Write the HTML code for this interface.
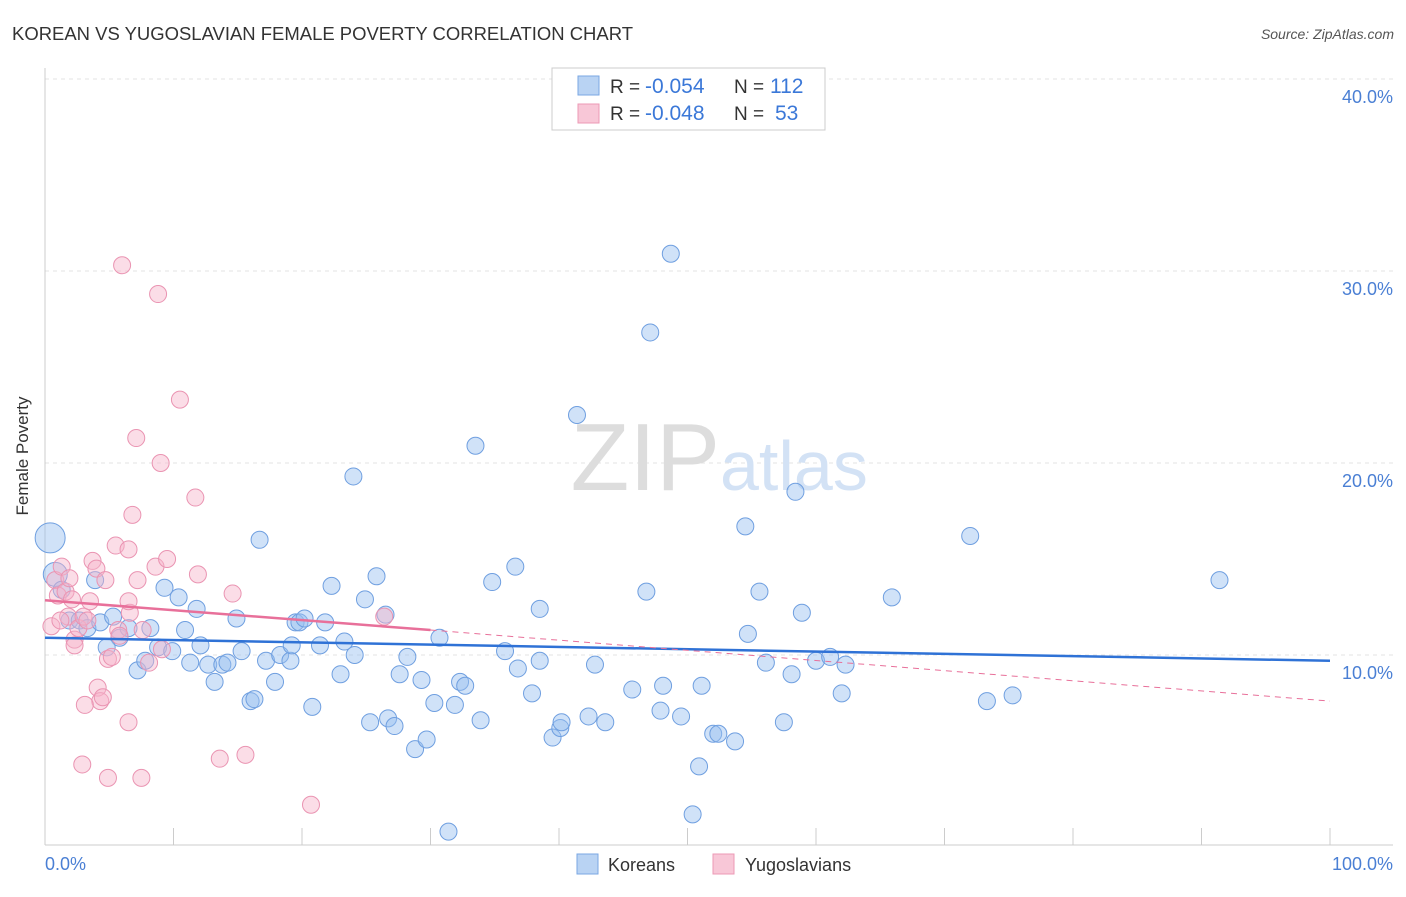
<!DOCTYPE html>
<html><head><meta charset="utf-8"><style>
body{margin:0;background:#fff;font-family:"Liberation Sans",sans-serif;}
svg text{font-family:"Liberation Sans",sans-serif;}
</style></head><body>
<svg width="1406" height="892" viewBox="0 0 1406 892">
<text x="12" y="40" font-size="18" fill="#333" textLength="621" lengthAdjust="spacingAndGlyphs">KOREAN VS YUGOSLAVIAN FEMALE POVERTY CORRELATION CHART</text>
<text x="1394" y="39" font-size="14" fill="#555" text-anchor="end" font-style="italic">Source: ZipAtlas.com</text>
<g id="grid"></g>
<text x="720" y="490" font-size="96" fill="#ddd" text-anchor="end" font-family="Liberation Serif">ZIP</text>
<text x="720" y="490" font-size="70" fill="#d3e2f5">atlas</text>
<line x1="45" y1="68" x2="45" y2="845" stroke="#ccc"/>
<line x1="45" y1="845" x2="1393" y2="845" stroke="#ccc"/>
<g id="xticks"></g>
<text x="28" y="456" font-size="17" fill="#333" transform="rotate(-90 28 456)" text-anchor="middle">Female Poverty</text>
<text x="45" y="870" font-size="18" fill="#4a7fd4">0.0%</text>
<text x="1393" y="870" font-size="18" fill="#4a7fd4" text-anchor="end">100.0%</text>
<g id="pts"></g>
<g id="trend"></g>
<g>
<rect x="552" y="68" width="273" height="62" fill="#fff" stroke="#ccc"/>
<rect x="578" y="76" width="21" height="19" fill="#b9d3f3" stroke="#7aa7e3"/>
<rect x="578" y="104" width="21" height="19" fill="#f8c7d7" stroke="#ec9ab5"/>
<text x="610" y="93" font-size="19" fill="#333">R =</text>
<text x="645" y="93" font-size="21" fill="#3b78d8">-0.054</text>
<text x="734" y="93" font-size="19" fill="#333">N =</text>
<text x="770" y="93" font-size="21" fill="#3b78d8">112</text>
<text x="610" y="120" font-size="19" fill="#333">R =</text>
<text x="645" y="120" font-size="21" fill="#3b78d8">-0.048</text>
<text x="734" y="120" font-size="19" fill="#333">N =</text>
<text x="775" y="120" font-size="21" fill="#3b78d8">53</text>
</g>
<g>
<rect x="577" y="854" width="21" height="20" fill="#b9d3f3" stroke="#7aa7e3"/>
<text x="608" y="871" font-size="18" fill="#333">Koreans</text>
<rect x="713" y="854" width="21" height="20" fill="#f8c7d7" stroke="#ec9ab5"/>
<text x="745" y="871" font-size="18" fill="#333">Yugoslavians</text>
</g>
</svg>
<script>
const yTicks=[10,20,30,40];
const xTickCount=10;
const koreansX=[0.4,0.8,1.3,3.9,1.9,2.7,3.3,4.3,5.3,5.8,6.5,4.8,7.2,7.8,8.2,8.8,9.3,9.9,10.4,10.9,11.3,11.8,12.1,12.7,13.2,13.8,14.2,14.9,15.3,16.0,16.3,16.7,17.2,17.9,18.3,19.1,19.2,19.5,19.8,20.2,20.8,21.4,21.8,22.3,23.0,23.3,24.0,24.1,24.9,25.3,25.8,26.5,26.7,27.2,27.6,28.2,28.8,29.3,29.7,30.3,30.7,31.4,31.9,32.3,32.7,33.5,33.9,34.8,35.8,36.6,36.8,37.9,38.5,38.5,39.5,40.1,40.2,41.4,42.3,42.8,43.6,45.7,46.8,47.1,47.9,48.1,48.7,49.5,50.4,50.9,51.1,52.0,52.4,53.7,54.5,54.7,55.6,56.1,57.5,58.1,58.4,58.9,60.0,61.1,62.0,62.3,65.9,72.0,73.3,75.3,91.4];
const koreansY=[16.1,14.2,13.4,13.9,11.8,11.8,11.4,11.7,12.0,10.9,11.4,10.4,9.2,9.7,11.4,10.4,13.5,10.2,13.0,11.3,9.6,12.4,10.5,9.5,8.6,9.5,9.6,11.9,10.2,7.6,7.7,16.0,9.7,8.6,10.0,9.7,10.5,11.7,11.7,11.9,7.3,10.5,11.7,13.6,9.0,10.7,19.3,10.0,12.9,6.5,14.1,12.1,6.7,6.3,9.0,9.9,5.1,8.7,5.6,7.5,10.9,0.8,7.4,8.6,8.4,20.9,6.6,13.8,10.2,14.6,9.3,8.0,12.4,9.7,5.7,6.2,6.5,22.5,6.8,9.5,6.5,8.2,13.3,26.8,7.1,8.4,30.9,6.8,1.7,4.2,8.4,5.9,5.9,5.5,16.7,11.1,13.3,9.6,6.5,9.0,18.5,12.2,9.7,9.9,8.0,9.5,13.0,16.2,7.6,7.9,13.9];
const yugoX=[0.8,1,1.3,1.6,1.8,2.1,2.3,2.6,3,3.3,3.7,4,4.1,4.3,4.5,4.7,4.9,5.2,5.5,5.7,5.8,6,6.5,6.5,6.6,6.8,7.1,7.2,7.5,7.6,8.1,8.6,8.8,9,9.1,9.5,10.5,11.7,11.9,13.6,14.6,15.6,20.7,26.4,2.9,4.9,2.3,0.5,1.2,3.5,1.9,3.1,6.5];
const yugoY=[13.9,13.1,14.6,13.3,12,12.9,10.8,11.4,12,11.8,14.9,14.5,8.3,7.6,7.8,13.9,9.8,9.9,15.7,11.3,11,30.3,15.5,6.5,12.2,17.3,21.3,13.9,3.6,11.3,9.6,14.6,28.8,20,10.3,15,23.3,18.2,14.2,4.6,13.2,4.8,2.2,12,4.3,3.6,10.5,11.5,11.8,12.8,14,7.4,12.8];
const X=v=>45+v*12.85, Y=v=>847-v*19.2;
const NS='http://www.w3.org/2000/svg';
const grid=document.getElementById('grid');
yTicks.forEach(t=>{
 const l=document.createElementNS(NS,'line');
 l.setAttribute('x1',45);l.setAttribute('x2',1393);l.setAttribute('y1',Y(t));l.setAttribute('y2',Y(t));
 l.setAttribute('stroke','#e3e3e3');l.setAttribute('stroke-dasharray','4,4');
 
 
 grid.appendChild(l);
 const tx=document.createElementNS(NS,'text');
 tx.setAttribute('x',1393);tx.setAttribute('y',Y(t)+24);tx.setAttribute('text-anchor','end');
 tx.setAttribute('font-size','18');tx.setAttribute('fill','#4a7fd4');tx.textContent=t.toFixed(1)+'%';
 
 
 grid.appendChild(tx);
});
const xt=document.getElementById('xticks');
for(let i=0;i<=xTickCount;i++){
 const l=document.createElementNS(NS,'line');
 const x=X(i*100/xTickCount);
 l.setAttribute('x1',x);l.setAttribute('x2',x);l.setAttribute('y1',828);l.setAttribute('y2',845);l.setAttribute('stroke','#ccc');
 
 
 xt.appendChild(l);
}
const pts=document.getElementById('pts');
function dot(x,y,r,fill,stroke,name){
 const c=document.createElementNS(NS,'circle');
 c.setAttribute('cx',X(x));c.setAttribute('cy',Y(y));c.setAttribute('r',r);
 c.setAttribute('fill',fill);c.setAttribute('stroke',stroke);c.setAttribute('stroke-width','1');
 
 
 pts.appendChild(c);
}
koreansX.forEach((x,i)=>dot(x,koreansY[i],i==0?15:(i==1?12:8.5),'rgba(150,190,240,0.45)','#6f9fe0','korean-point'));
yugoX.forEach((x,i)=>dot(x,yugoY[i],8.5,'rgba(246,180,202,0.45)','#ea94b2','yugoslavian-point'));
const tr=document.getElementById('trend');
function line(x1,y1,x2,y2,col,w,dash,name){
 const l=document.createElementNS(NS,'line');
 l.setAttribute('x1',X(x1));l.setAttribute('y1',Y(y1));l.setAttribute('x2',X(x2));l.setAttribute('y2',Y(y2));
 l.setAttribute('stroke',col);l.setAttribute('stroke-width',w);if(dash)l.setAttribute('stroke-dasharray',dash);
 
 
 tr.appendChild(l);
}
line(0,10.9,100,9.7,'#2f72d6',2.5,null,'korean-trend-line');
line(0,12.85,30,11.3,'#e8709a',2.5,null,'yugoslavian-trend-line');
line(30,11.3,100,7.6,'#e8709a',1,'6,5','yugoslavian-trend-extension');
</script>
</body></html>
